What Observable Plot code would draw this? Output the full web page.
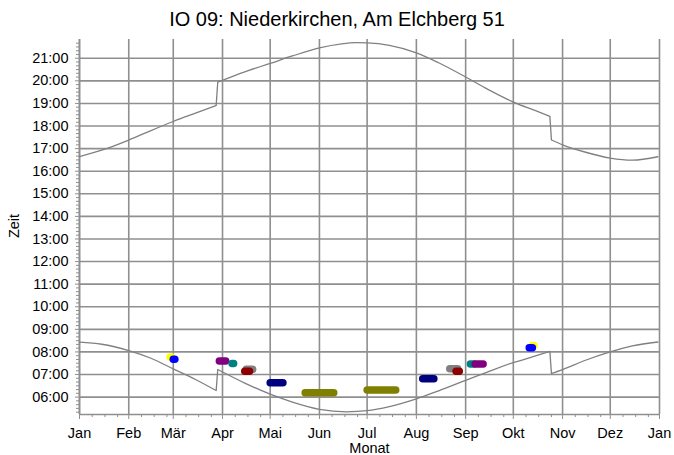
<!DOCTYPE html>
<html><head><meta charset="utf-8">
<script src="https://cdn.jsdelivr.net/npm/d3@7"></script>
<script src="https://cdn.jsdelivr.net/npm/@observablehq/plot@0.6"></script>
<style>
body{margin:0;background:#fff;}
#wrap{position:relative;width:674px;height:455px;font-family:"Liberation Sans",Arial,sans-serif;}
#title{position:absolute;left:0;top:8px;width:674px;text-align:center;font-size:20px;line-height:23px;color:#000;}
</style></head><body>
<div id="wrap"><div id="chart"></div><div id="title">IO 09: Niederkirchen, Am Elchberg 51</div></div>
<script>
const monthLabels = ["Jan","Feb","Mär","Apr","Mai","Jun","Jul","Aug","Sep","Okt","Nov","Dez"];
const xLabel = "Monat", yLabel = "Zeit";

const sunsetDates = ["2009-01-01","2009-01-15","2009-02-01","2009-02-15","2009-03-01","2009-03-15","2009-03-28",
  "2009-03-29","2009-04-15","2009-05-01","2009-05-15","2009-06-01","2009-06-15","2009-06-24","2009-07-01","2009-07-15",
  "2009-08-01","2009-08-15","2009-09-01","2009-09-15","2009-10-01","2009-10-15","2009-10-24",
  "2009-10-25","2009-11-01","2009-11-15","2009-12-01","2009-12-15","2009-12-31"];
const sunsetHours = [16.65,16.93,17.38,17.80,18.20,18.57,18.91,
  19.94,20.40,20.77,21.10,21.46,21.64,21.69,21.68,21.57,
  21.24,20.80,20.17,19.62,19.06,18.68,18.43,
  17.38,17.17,16.85,16.58,16.49,16.64];

const sunriseDates = ["2009-01-01","2009-01-15","2009-02-01","2009-02-15","2009-03-01","2009-03-15","2009-03-28",
  "2009-03-29","2009-04-15","2009-05-01","2009-05-15","2009-06-01","2009-06-18","2009-07-01","2009-07-15",
  "2009-08-01","2009-08-15","2009-09-01","2009-09-15","2009-10-01","2009-10-15","2009-10-24",
  "2009-10-25","2009-11-01","2009-11-15","2009-12-01","2009-12-15","2009-12-31"];
const sunriseHours = [8.43,8.34,8.06,7.72,7.25,6.78,6.29,
  7.22,6.62,6.13,5.78,5.46,5.35,5.40,5.58,
  5.92,6.28,6.74,7.12,7.53,7.82,8.02,
  7.05,7.22,7.62,8.00,8.27,8.44];

const dstStart = "2009-03-29", dstEnd = "2009-10-25";

// shadow events (drawing order)
const eventStart = ["2009-02-27","2009-03-01","2009-03-30","2009-04-07","2009-04-16","2009-04-15","2009-05-01","2009-05-23","2009-07-01",
  "2009-08-05","2009-08-22","2009-08-26","2009-09-04","2009-09-07","2009-10-13","2009-10-11"];
const eventEnd = ["2009-02-28","2009-03-02","2009-04-03","2009-04-08","2009-04-20","2009-04-18","2009-05-09","2009-06-10","2009-07-19",
  "2009-08-12","2009-08-27","2009-08-28","2009-09-06","2009-09-12","2009-10-14","2009-10-13"];
const eventHours = [7.78,7.68,7.60,7.49,7.23,7.15,6.64,6.19,6.32,6.81,7.26,7.15,7.47,7.46,8.28,8.18];
const eventColors = ["#ffff00","#0000ff","#800080","#008080","#808080","#8b0000","#000080","#808000","#808000",
  "#000080","#808080","#8b0000","#008080","#800080","#ffff00","#0000ff"];

const hourTicks = d3.range(6, 22);

const parse = s => new Date(s + "T00:00:00Z");
const segOf = s => s < dstStart ? 0 : (s < dstEnd ? 1 : 2);
const curveRows = [];
sunsetDates.forEach((s, i) => curveRows.push({date: parse(s), hour: sunsetHours[i], key: "set" + segOf(s)}));
sunriseDates.forEach((s, i) => curveRows.push({date: parse(s), hour: sunriseHours[i], key: "rise" + segOf(s)}));
const jumps = [];
for (const name of ["set", "rise"]) {
  for (const k of [0, 1]) {
    const a = curveRows.filter(d => d.key === name + k), b = curveRows.filter(d => d.key === name + (k + 1));
    jumps.push({x1: a[a.length - 1].date, y1: a[a.length - 1].hour, x2: b[0].date, y2: b[0].hour});
  }
}
const events = eventStart.map((s, i) => ({x1: parse(s), x2: parse(eventEnd[i]), y: eventHours[i], color: eventColors[i]}));

const xStart = new Date(Date.UTC(2009, 0, 1)), xEnd = new Date(Date.UTC(2010, 0, 1));
const yMin = 5.23, yMax = 21.83;
const monthTicks = d3.utcMonth.range(xStart, new Date(Date.UTC(2010, 0, 2)));
const minorX = [];
for (let m = 0; m < 12; m++) for (const d of [9, 17, 25]) minorX.push(new Date(Date.UTC(2009, m, d)));
const minorY = d3.range(31, 132).map(i => i / 6).filter(h => Math.round(h * 6) % 6 !== 0 && h >= yMin && h <= yMax);

const gridColor = "#8f8f8f";
const chart = Plot.plot({
  width: 674, height: 455,
  marginLeft: 79, marginRight: 15, marginTop: 39, marginBottom: 41,
  style: {fontFamily: '"Liberation Sans", Arial, sans-serif', fontSize: "14.5px", background: "#fff", color: "#000"},
  x: {type: "utc", domain: [xStart, xEnd]},
  y: {domain: [yMin, yMax]},
  marks: [
    Plot.gridX(monthTicks, {stroke: gridColor, strokeOpacity: 1, strokeWidth: 1.6}),
    Plot.gridY(hourTicks, {stroke: gridColor, strokeOpacity: 1, strokeWidth: 1.6}),
    Plot.ruleX([xStart], {stroke: gridColor, strokeWidth: 1.6}),
    Plot.ruleY([yMin], {stroke: gridColor, strokeWidth: 1.6}),
    Plot.axisY(minorY, {tickSize: 3, tickFormat: () => "", label: null, stroke: gridColor}),
    Plot.axisY(hourTicks, {tickSize: 4, tickPadding: 7, stroke: gridColor, fill: "#000",
      tickFormat: h => (h < 10 ? "0" : "") + h + ":00", label: null}),
    Plot.axisX(minorX, {tickSize: 3, tickFormat: () => "", label: null, stroke: gridColor}),
    Plot.axisX(monthTicks, {tickSize: 5, tickPadding: 8, stroke: gridColor, fill: "#000",
      tickFormat: d => monthLabels[d.getUTCMonth()], label: null}),
    Plot.text([xLabel], {text: d => d, frameAnchor: "bottom", lineAnchor: "middle", textAnchor: "middle", dy: 34, fill: "#000"}),
    Plot.text([yLabel], {text: d => d, frameAnchor: "left", lineAnchor: "middle", textAnchor: "middle", rotate: -90, dx: -65, dy: -1, fill: "#000"}),
    Plot.line(curveRows, {x: "date", y: "hour", z: "key", curve: "monotone-x", stroke: "#808080", strokeWidth: 1.3}),
    Plot.link(jumps, {x1: "x1", y1: "y1", x2: "x2", y2: "y2", stroke: "#808080", strokeWidth: 1.3}),
    Plot.link(events, {x1: "x1", x2: "x2", y1: "y", y2: "y", stroke: "color", strokeWidth: 7.5, strokeLinecap: "round"})
  ]
});
document.getElementById("chart").appendChild(chart);
</script>
</body></html>
